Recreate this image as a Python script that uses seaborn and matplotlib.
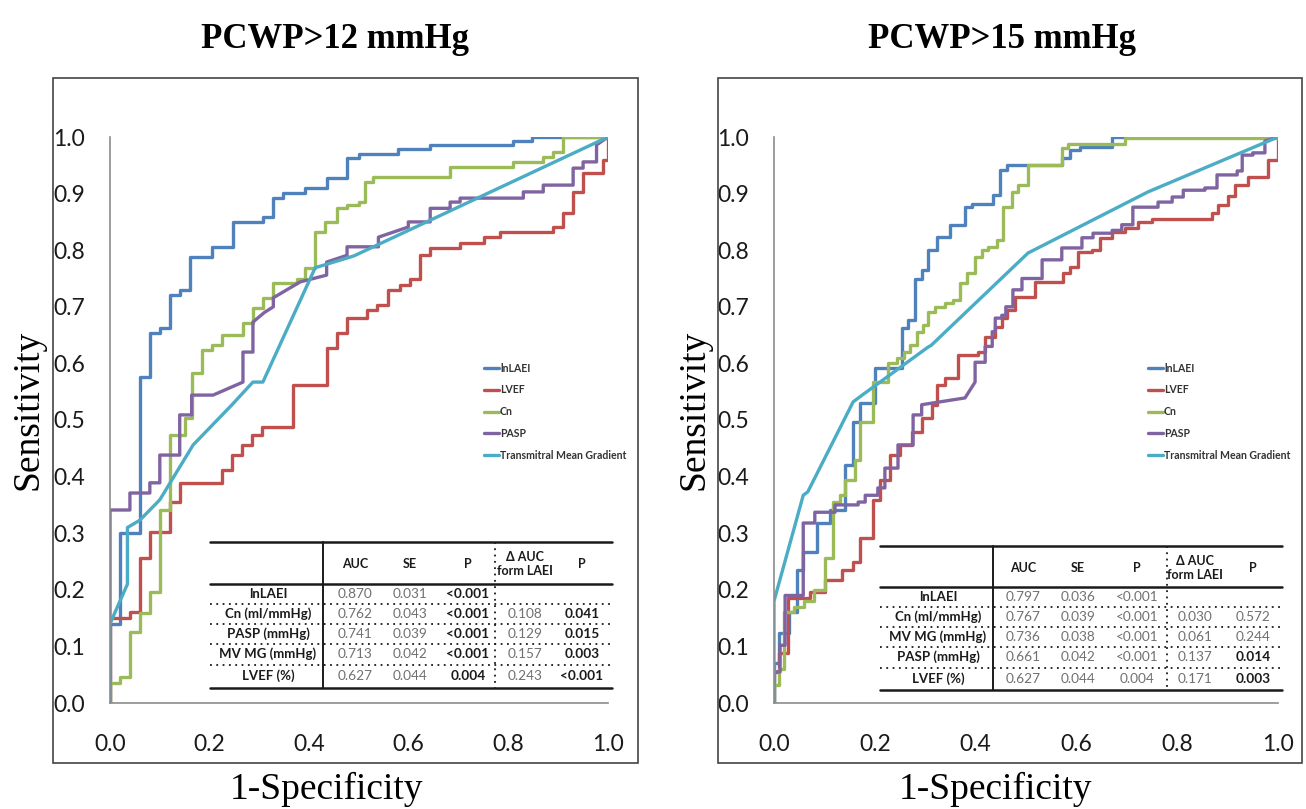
import matplotlib
matplotlib.use("Agg")
import matplotlib.pyplot as plt
import seaborn as sns
import pandas as pd
from matplotlib.lines import Line2D
from matplotlib.patches import Rectangle

W, H = 1306, 809

# ---------------- data ----------------
series_names = ["lnLAEI", "LVEF", "Cn", "PASP", "Transmitral Mean Gradient"]
colors = ["#4F81BD", "#C0504D", "#9BBB59", "#8064A2", "#4BACC6"]

# Staircase curves: (fpr, tpr) = at this 1-specificity the sensitivity jumps to tpr
# Polyline curves: explicit (fpr, tpr) vertices

# Panel A: PCWP>12 mmHg
a_lnlaei_steps = [(0, 0.14), (0.02, 0.30), (0.06, 0.576), (0.08, 0.654), (0.10, 0.662), (0.12, 0.721),
                  (0.14, 0.730), (0.16, 0.788), (0.205, 0.806), (0.247, 0.850), (0.307, 0.859), (0.328, 0.892),
                  (0.348, 0.901), (0.392, 0.910), (0.435, 0.928), (0.476, 0.963), (0.50, 0.970), (0.578, 0.979),
                  (0.643, 0.986), (0.81, 0.993), (0.847, 1.0), (1.0, 1.0)]
a_lvef_steps = [(0, 0.15), (0.04, 0.161), (0.06, 0.256), (0.08, 0.302), (0.12, 0.355), (0.14, 0.389),
                (0.225, 0.412), (0.245, 0.438), (0.265, 0.456), (0.285, 0.473), (0.305, 0.488), (0.368, 0.562),
                (0.435, 0.627), (0.456, 0.654), (0.476, 0.680), (0.516, 0.694), (0.536, 0.703), (0.559, 0.730),
                (0.582, 0.739), (0.602, 0.750), (0.622, 0.791), (0.643, 0.804), (0.703, 0.813), (0.75, 0.823),
                (0.783, 0.832), (0.89, 0.841), (0.91, 0.866), (0.93, 0.903), (0.95, 0.936), (0.99, 0.959),
                (1.0, 1.0)]
a_cn_steps = [(0, 0.035), (0.02, 0.046), (0.04, 0.125), (0.06, 0.159), (0.08, 0.196), (0.10, 0.341),
              (0.12, 0.473), (0.15, 0.504), (0.164, 0.583), (0.185, 0.624), (0.205, 0.633), (0.225, 0.650),
              (0.267, 0.671), (0.287, 0.698), (0.307, 0.716), (0.328, 0.742), (0.375, 0.750), (0.392, 0.768),
              (0.412, 0.832), (0.432, 0.850), (0.456, 0.874), (0.476, 0.880), (0.50, 0.885), (0.512, 0.920),
              (0.528, 0.929), (0.683, 0.947), (0.81, 0.956), (0.87, 0.965), (0.89, 0.973), (0.91, 1.0),
              (1.0, 1.0)]
a_pasp_path = [(0, 0), (0, 0.341), (0.04, 0.341), (0.04, 0.371), (0.08, 0.371), (0.08, 0.389), (0.10, 0.389),
               (0.10, 0.438), (0.14, 0.438), (0.14, 0.509), (0.164, 0.509), (0.164, 0.544), (0.207, 0.544),
               (0.267, 0.567), (0.267, 0.620), (0.287, 0.620), (0.287, 0.673), (0.31, 0.69), (0.328, 0.70),
               (0.328, 0.716), (0.382, 0.744), (0.435, 0.756), (0.435, 0.779), (0.476, 0.791), (0.476, 0.806),
               (0.539, 0.806), (0.539, 0.823), (0.599, 0.841), (0.599, 0.850), (0.643, 0.850), (0.643, 0.874),
               (0.683, 0.874), (0.683, 0.885), (0.703, 0.885), (0.703, 0.892), (0.83, 0.892), (0.83, 0.903),
               (0.87, 0.903), (0.87, 0.915), (0.93, 0.915), (0.93, 0.945), (0.95, 0.945), (0.95, 0.956),
               (0.977, 0.956), (0.977, 0.986), (1.0, 1.0)]
a_tmg_path = [(0, 0), (0, 0.14), (0.035, 0.21), (0.035, 0.31), (0.06, 0.323), (0.10, 0.359), (0.167, 0.456),
              (0.245, 0.527), (0.287, 0.567), (0.307, 0.567), (0.412, 0.769), (0.49, 0.79), (1.0, 1.0)]

# Panel B: PCWP>15 mmHg
b_lnlaei_steps = [(0, 0.07), (0.01, 0.124), (0.03, 0.16), (0.045, 0.235), (0.058, 0.267), (0.085, 0.318),
                  (0.111, 0.341), (0.141, 0.420), (0.157, 0.496), (0.171, 0.530), (0.200, 0.591), (0.254, 0.663),
                  (0.266, 0.677), (0.280, 0.750), (0.293, 0.765), (0.306, 0.800), (0.323, 0.823), (0.349, 0.844),
                  (0.379, 0.876), (0.392, 0.882), (0.435, 0.897), (0.449, 0.942), (0.462, 0.951), (0.571, 0.963),
                  (0.587, 0.977), (0.607, 0.982), (0.671, 1.0), (1.0, 1.0)]
b_lvef_steps = [(0, 0.055), (0.01, 0.088), (0.028, 0.186), (0.071, 0.196), (0.101, 0.217), (0.135, 0.235),
                (0.157, 0.25), (0.171, 0.292), (0.196, 0.359), (0.21, 0.394), (0.230, 0.438), (0.25, 0.455),
                (0.274, 0.479), (0.293, 0.504), (0.313, 0.527), (0.323, 0.562), (0.339, 0.575), (0.365, 0.615),
                (0.405, 0.620), (0.419, 0.647), (0.438, 0.664), (0.452, 0.680), (0.462, 0.694), (0.478, 0.717),
                (0.518, 0.744), (0.573, 0.760), (0.587, 0.770), (0.603, 0.797), (0.631, 0.80), (0.647, 0.822),
                (0.671, 0.832), (0.696, 0.840), (0.722, 0.850), (0.750, 0.855), (0.869, 0.866), (0.881, 0.880),
                (0.90, 0.895), (0.915, 0.915), (0.940, 0.929), (0.980, 0.959), (1.0, 1.0)]
b_cn_steps = [(0, 0.032), (0.01, 0.06), (0.02, 0.161), (0.04, 0.17), (0.06, 0.18), (0.08, 0.20), (0.101, 0.256),
              (0.117, 0.355), (0.131, 0.367), (0.141, 0.394), (0.161, 0.43), (0.171, 0.496), (0.196, 0.567),
              (0.226, 0.601), (0.244, 0.610), (0.257, 0.620), (0.27, 0.633), (0.283, 0.656), (0.295, 0.668),
              (0.306, 0.691), (0.32, 0.70), (0.339, 0.707), (0.355, 0.712), (0.369, 0.742), (0.383, 0.760),
              (0.399, 0.788), (0.412, 0.800), (0.425, 0.806), (0.442, 0.818), (0.455, 0.876), (0.472, 0.903),
              (0.485, 0.915), (0.504, 0.951), (0.571, 0.981), (0.583, 0.987), (0.696, 0.998), (1.0, 1.0)]
b_pasp_path = [(0, 0), (0, 0.055), (0.012, 0.055), (0.012, 0.102), (0.022, 0.102), (0.022, 0.19), (0.058, 0.19),
               (0.058, 0.318), (0.081, 0.318), (0.081, 0.337), (0.121, 0.337), (0.121, 0.350), (0.167, 0.350),
               (0.167, 0.355), (0.181, 0.355), (0.181, 0.367), (0.206, 0.367), (0.206, 0.38), (0.220, 0.38),
               (0.220, 0.415), (0.246, 0.415), (0.246, 0.456), (0.276, 0.456), (0.276, 0.509), (0.293, 0.509),
               (0.293, 0.527), (0.379, 0.539), (0.399, 0.567), (0.399, 0.602), (0.419, 0.602), (0.419, 0.63),
               (0.433, 0.63), (0.433, 0.656), (0.439, 0.656), (0.439, 0.680), (0.452, 0.680), (0.452, 0.685),
               (0.460, 0.685), (0.460, 0.70), (0.474, 0.70), (0.474, 0.730), (0.492, 0.730), (0.492, 0.750),
               (0.532, 0.750), (0.532, 0.783), (0.571, 0.783), (0.571, 0.804), (0.611, 0.804), (0.611, 0.822),
               (0.633, 0.822), (0.633, 0.83), (0.671, 0.83), (0.671, 0.835), (0.690, 0.835), (0.690, 0.845),
               (0.712, 0.845), (0.712, 0.876), (0.762, 0.876), (0.762, 0.885), (0.790, 0.885), (0.790, 0.894),
               (0.812, 0.894), (0.812, 0.906), (0.855, 0.906), (0.855, 0.91), (0.879, 0.91), (0.879, 0.933),
               (0.919, 0.933), (0.919, 0.94), (0.929, 0.94), (0.929, 0.968), (0.95, 0.968), (0.95, 0.972),
               (0.974, 0.972), (0.974, 0.993), (1.0, 1.0)]
b_tmg_path = [(0, 0), (0, 0.18), (0.058, 0.367), (0.067, 0.373), (0.157, 0.532), (0.175, 0.544), (0.306, 0.629),
              (0.312, 0.632), (0.504, 0.795), (0.742, 0.903), (1.0, 1.0)]

titles = ["PCWP>12 mmHg", "PCWP>15 mmHg"]
xtick_labels = ["0.0", "0.2", "0.4", "0.6", "0.8", "1.0"]
ytick_labels = ["0.0", "0.1", "0.2", "0.3", "0.4", "0.5", "0.6", "0.7", "0.8", "0.9", "1.0"]

# table contents
table_header = ["AUC", "SE", "P", "Δ AUC\nform LAEI", "P"]
a_rows = ["lnLAEI", "Cn (ml/mmHg)", "PASP (mmHg)", "MV MG (mmHg)", "LVEF (%)"]
a_auc = ["0.870", "0.762", "0.741", "0.713", "0.627"]
a_se = ["0.031", "0.043", "0.039", "0.042", "0.044"]
a_p = ["<0.001", "<0.001", "<0.001", "<0.001", "0.004"]
a_dauc = ["", "0.108", "0.129", "0.157", "0.243"]
a_p2 = ["", "0.041", "0.015", "0.003", "<0.001"]
a_pbold = [True, True, True, True, True]
a_p2bold = [False, True, True, True, True]

b_rows = ["lnLAEI", "Cn (ml/mmHg)", "MV MG (mmHg)", "PASP (mmHg)", "LVEF (%)"]
b_auc = ["0.797", "0.767", "0.736", "0.661", "0.627"]
b_se = ["0.036", "0.039", "0.038", "0.042", "0.044"]
b_p = ["<0.001", "<0.001", "<0.001", "<0.001", "0.004"]
b_dauc = ["", "0.030", "0.061", "0.137", "0.171"]
b_p2 = ["", "0.572", "0.244", "0.014", "0.003"]
b_pbold = [False, False, False, False, False]
b_p2bold = [False, False, False, True, True]


def steps_to_path(steps):
    pts = [(0.0, 0.0)]
    for x, y in steps:
        pts.append((x, pts[-1][1]))
        pts.append((x, y))
    return pts


panel_a = [steps_to_path(a_lnlaei_steps), steps_to_path(a_lvef_steps), steps_to_path(a_cn_steps),
           a_pasp_path, a_tmg_path]
panel_b = [steps_to_path(b_lnlaei_steps), steps_to_path(b_lvef_steps), steps_to_path(b_cn_steps),
           b_pasp_path, b_tmg_path]

# ---------------- drawing ----------------
sns.set_theme(style="white")
plt.rcParams["font.family"] = ["Lato", "DejaVu Sans"]

fig = plt.figure(figsize=(W / 100, H / 100), dpi=100)


def fx(px):
    return px / W


def fy(py):
    return 1 - py / H


layout = [
    dict(ax=(110, 137, 608, 703), frame=(53, 78, 638, 763), title_x=335, xlab_x=327, ylab_x=28,
         tbl=dict(x0=210, x1=612, top=542, hdr=584, bot=688, vdiv=323, ddiv=495,
                  cols=[268, 355, 410, 468, 525, 582], rows=[594, 614, 634, 654, 676], head_y=564),
         leg=(484, 368)),
    dict(ax=(774, 137, 1278, 703), frame=(718, 78, 1302, 763), title_x=1002, xlab_x=995, ylab_x=694,
         tbl=dict(x0=880, x1=1282, top=546, hdr=587, bot=690, vdiv=993, ddiv=1167,
                  cols=[938, 1023, 1078, 1137, 1195, 1253], rows=[597, 617, 637, 657, 679], head_y=568),
         leg=(1148, 368)),
]

tables = [
    (a_rows, a_auc, a_se, a_p, a_dauc, a_p2, a_pbold, a_p2bold),
    (b_rows, b_auc, b_se, b_p, b_dauc, b_p2, b_pbold, b_p2bold),
]

for k, (panel, lay) in enumerate(zip([panel_a, panel_b], layout)):
    x0, y0, x1, y1 = lay["ax"]
    ax = fig.add_axes([fx(x0), fy(y1), fx(x1) - fx(x0), fy(y0) - fy(y1)])
    frames = []
    for name, pts in zip(series_names, panel):
        frames.append(pd.DataFrame({"fpr": [p[0] for p in pts], "tpr": [p[1] for p in pts], "series": name}))
    df = pd.concat(frames, ignore_index=True)
    sns.lineplot(data=df, x="fpr", y="tpr", hue="series", hue_order=series_names,
                 palette=colors, sort=False, estimator=None, units="series",
                 linewidth=2.4, ax=ax, legend=False)
    ax.set_xlim(0, 1)
    ax.set_ylim(0, 1)
    ax.set_xticks([0, 0.2, 0.4, 0.6, 0.8, 1.0])
    ax.set_xticklabels(xtick_labels)
    ax.set_yticks([i / 10 for i in range(11)])
    ax.set_yticklabels(ytick_labels)
    ax.tick_params(axis="both", length=0, labelsize=16.5, colors="#1a1a1a")
    ax.tick_params(axis="y", pad=18)
    ax.tick_params(axis="x", pad=22)
    for s in ["top", "right"]:
        ax.spines[s].set_visible(False)
    for s in ["left", "bottom"]:
        ax.spines[s].set_color("#8c8c8c")
        ax.spines[s].set_linewidth(1.2)
    ax.set_xlabel("")
    ax.set_ylabel("")
    ax.patch.set_alpha(0)

    # frame
    fl, ft, fr, fb = lay["frame"]
    fig.add_artist(Rectangle((fx(fl), fy(fb)), fx(fr) - fx(fl), fy(ft) - fy(fb),
                             transform=fig.transFigure, fill=False, edgecolor="#444444", linewidth=1.2))

    # titles and axis labels
    fig.text(fx(lay["title_x"]), fy(40), titles[k], ha="center", va="center",
             family="Liberation Serif", fontweight="bold", fontsize=25, color="black")
    fig.text(fx(lay["xlab_x"]), fy(789), "1-Specificity", ha="center", va="center",
             family="Liberation Serif", fontsize=27, color="black")
    fig.text(fx(lay["ylab_x"]), fy(410), "Sensitivity", ha="center", va="center", rotation=90,
             family="Liberation Serif", fontsize=27, color="black")

    # legend
    lx, ly = lay["leg"]
    for i, (name, c) in enumerate(zip(series_names, colors)):
        yy = ly + i * 21.8
        fig.add_artist(Line2D([fx(lx), fx(lx + 15)], [fy(yy), fy(yy)], color=c, linewidth=2.4,
                              transform=fig.transFigure))
        fig.text(fx(lx + 16), fy(yy), name, ha="left", va="center", fontsize=7.6,
                 fontweight="bold", color="#333333")

    # table
    t = lay["tbl"]
    rows, auc, se, p, dauc, p2, pbold, p2bold = tables[k]
    line_kw = dict(transform=fig.transFigure, color="#1a1a1a")
    for yy in (t["top"], t["hdr"], t["bot"]):
        fig.add_artist(Line2D([fx(t["x0"]), fx(t["x1"])], [fy(yy)] * 2, linewidth=1.8, **line_kw))
    fig.add_artist(Line2D([fx(t["vdiv"])] * 2, [fy(t["top"]), fy(t["bot"])], linewidth=1.4, **line_kw))
    fig.add_artist(Line2D([fx(t["ddiv"])] * 2, [fy(t["top"]), fy(t["bot"])], linewidth=1.3,
                          linestyle=(0, (1, 2.5)), **line_kw))
    rws = t["rows"]
    for i in range(len(rws) - 1):
        yy = (rws[i] + rws[i + 1]) / 2
        fig.add_artist(Line2D([fx(t["x0"]), fx(t["x1"])], [fy(yy)] * 2, linewidth=1.3,
                              linestyle=(0, (1, 2.5)), **line_kw))
    cols = t["cols"]
    hy = t["head_y"]
    for j, h in enumerate(table_header):
        fig.text(fx(cols[j + 1]), fy(hy), h, ha="center", va="center", fontsize=9,
                 fontweight="bold", color="#1a1a1a", linespacing=1.2)
    for i, r in enumerate(rows):
        yy = rws[i]
        fig.text(fx(cols[0]), fy(yy), r, ha="center", va="center", fontsize=9.5,
                 fontweight="bold", color="#1a1a1a")
        for j, (val, bold) in enumerate([(auc[i], False), (se[i], False), (p[i], pbold[i]),
                                          (dauc[i], False), (p2[i], p2bold[i])]):
            fig.text(fx(cols[j + 1]), fy(yy), val, ha="center", va="center", fontsize=9.8,
                     fontweight="bold" if bold else "normal",
                     color="#1a1a1a" if bold else "#707070")

fig.savefig("out.png", dpi=100)
